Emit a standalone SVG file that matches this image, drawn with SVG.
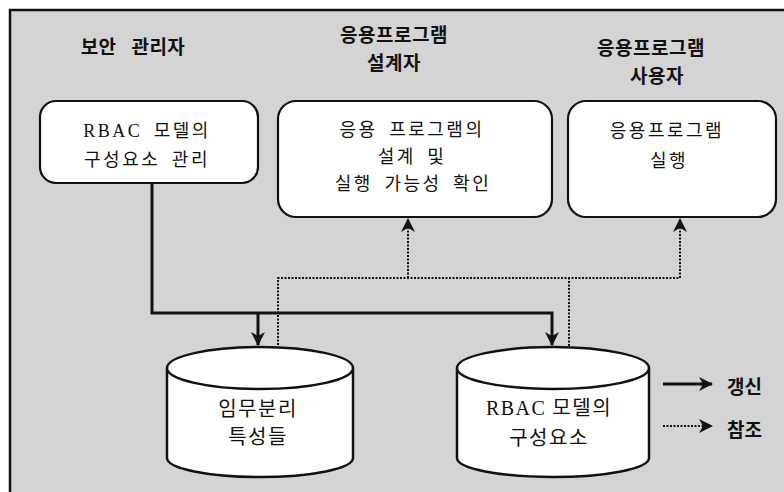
<svg xmlns="http://www.w3.org/2000/svg" width="784" height="492" viewBox="0 0 784 492">
<style>
.hdr{font-family:"Noto Sans CJK KR","Noto Sans",sans-serif;font-weight:700;font-size:19px;fill:#111;text-anchor:middle;letter-spacing:0.5px}
.box{fill:#fff;stroke:#111;stroke-width:2.2}
.bt{font-family:"Noto Sans CJK KR","Noto Sans",sans-serif;font-size:18px;fill:#111;text-anchor:middle;letter-spacing:2.5px;word-spacing:5px}
.ct{font-family:"Noto Sans CJK KR","Noto Sans",sans-serif;font-size:20px;fill:#111;text-anchor:middle;letter-spacing:1.5px}
.rb{font-family:"Liberation Serif",serif}
.cyl{fill:#fff;stroke:#111;stroke-width:2.5}
.upd{fill:none;stroke:#111;stroke-width:3}
.ref{fill:none;stroke:#111;stroke-width:2;stroke-dasharray:2 1.5}
.leg{font-family:"Noto Sans CJK KR","Noto Sans",sans-serif;font-weight:700;font-size:19px;fill:#111}
</style>
<defs>
<marker id="ah" markerUnits="userSpaceOnUse" markerWidth="14" markerHeight="14" viewBox="0 0 14 14" refX="13" refY="7" orient="auto">
<path d="M0,0 L14,7 L0,14 L4,7 z" fill="#111"/>
</marker>
</defs>
<rect x="0" y="0" width="784" height="492" fill="#fff"/>
<rect x="10" y="10" width="774" height="482" fill="#d4d4d4"/>
<path d="M10,492 V10 H784" fill="none" stroke="#111" stroke-width="2.5"/>

<g id="headers">
<text class="hdr" x="133" y="54" word-spacing="10">보안 관리자</text>
<text class="hdr" x="394" y="42">응용프로그램</text>
<text class="hdr" x="394" y="70">설계자</text>
<text class="hdr" x="651" y="55">응용프로그램</text>
<text class="hdr" x="657" y="83">사용자</text>
</g>

<g id="connectors">
<path class="upd" d="M152,183 V313 H552 V345" marker-end="url(#ah)"/>
<path class="upd" d="M258,313 V345" marker-end="url(#ah)"/>
<path class="ref" d="M278,345 V278 H680 V219" marker-end="url(#ah)"/>
<path class="ref" d="M408,278 V219" marker-end="url(#ah)"/>
<path class="ref" d="M569,346 V278"/>
</g>

<g id="box1">
<rect class="box" x="40" y="101" width="218" height="82" rx="16"/>
<text class="bt" x="147" y="137"><tspan class="rb">RBAC</tspan> 모델의</text>
<text class="bt" x="147" y="166" word-spacing="9">구성요소 관리</text>
</g>
<g id="box2">
<rect class="box" x="278" y="101" width="274" height="116" rx="18"/>
<text class="bt" x="412" y="136">응용 프로그램의</text>
<text class="bt" x="412" y="163">설계 및</text>
<text class="bt" x="413" y="190">실행 가능성 확인</text>
</g>
<g id="box3">
<rect class="box" x="568" y="101" width="208" height="116" rx="18"/>
<text class="bt" x="667" y="137" letter-spacing="3">응용프로그램</text>
<text class="bt" x="669" y="167" letter-spacing="3">실행</text>
</g>

<g id="cyl1">
<path class="cyl" d="M167,368 V458 A93,19 0 0 0 353,458 V368"/>
<ellipse class="cyl" cx="260" cy="368" rx="93" ry="21"/>
<text class="ct" x="258" y="416">임무분리</text>
<text class="ct" x="258" y="444">특성들</text>
</g>
<g id="cyl2">
<path class="cyl" d="M457,368 V458 A96,19 0 0 0 649,458 V368"/>
<ellipse class="cyl" cx="553" cy="368" rx="96" ry="21"/>
<text class="ct" x="549" y="415"><tspan class="rb">RBAC</tspan> 모델의</text>
<text class="ct" x="549" y="445">구성요소</text>
</g>

<g id="legend">
<path class="upd" d="M663,384 H712" marker-end="url(#ah)"/>
<text class="leg" x="727" y="394">갱신</text>
<path class="ref" d="M663,426 H712" marker-end="url(#ah)"/>
<text class="leg" x="727" y="437">참조</text>
</g>
</svg>
